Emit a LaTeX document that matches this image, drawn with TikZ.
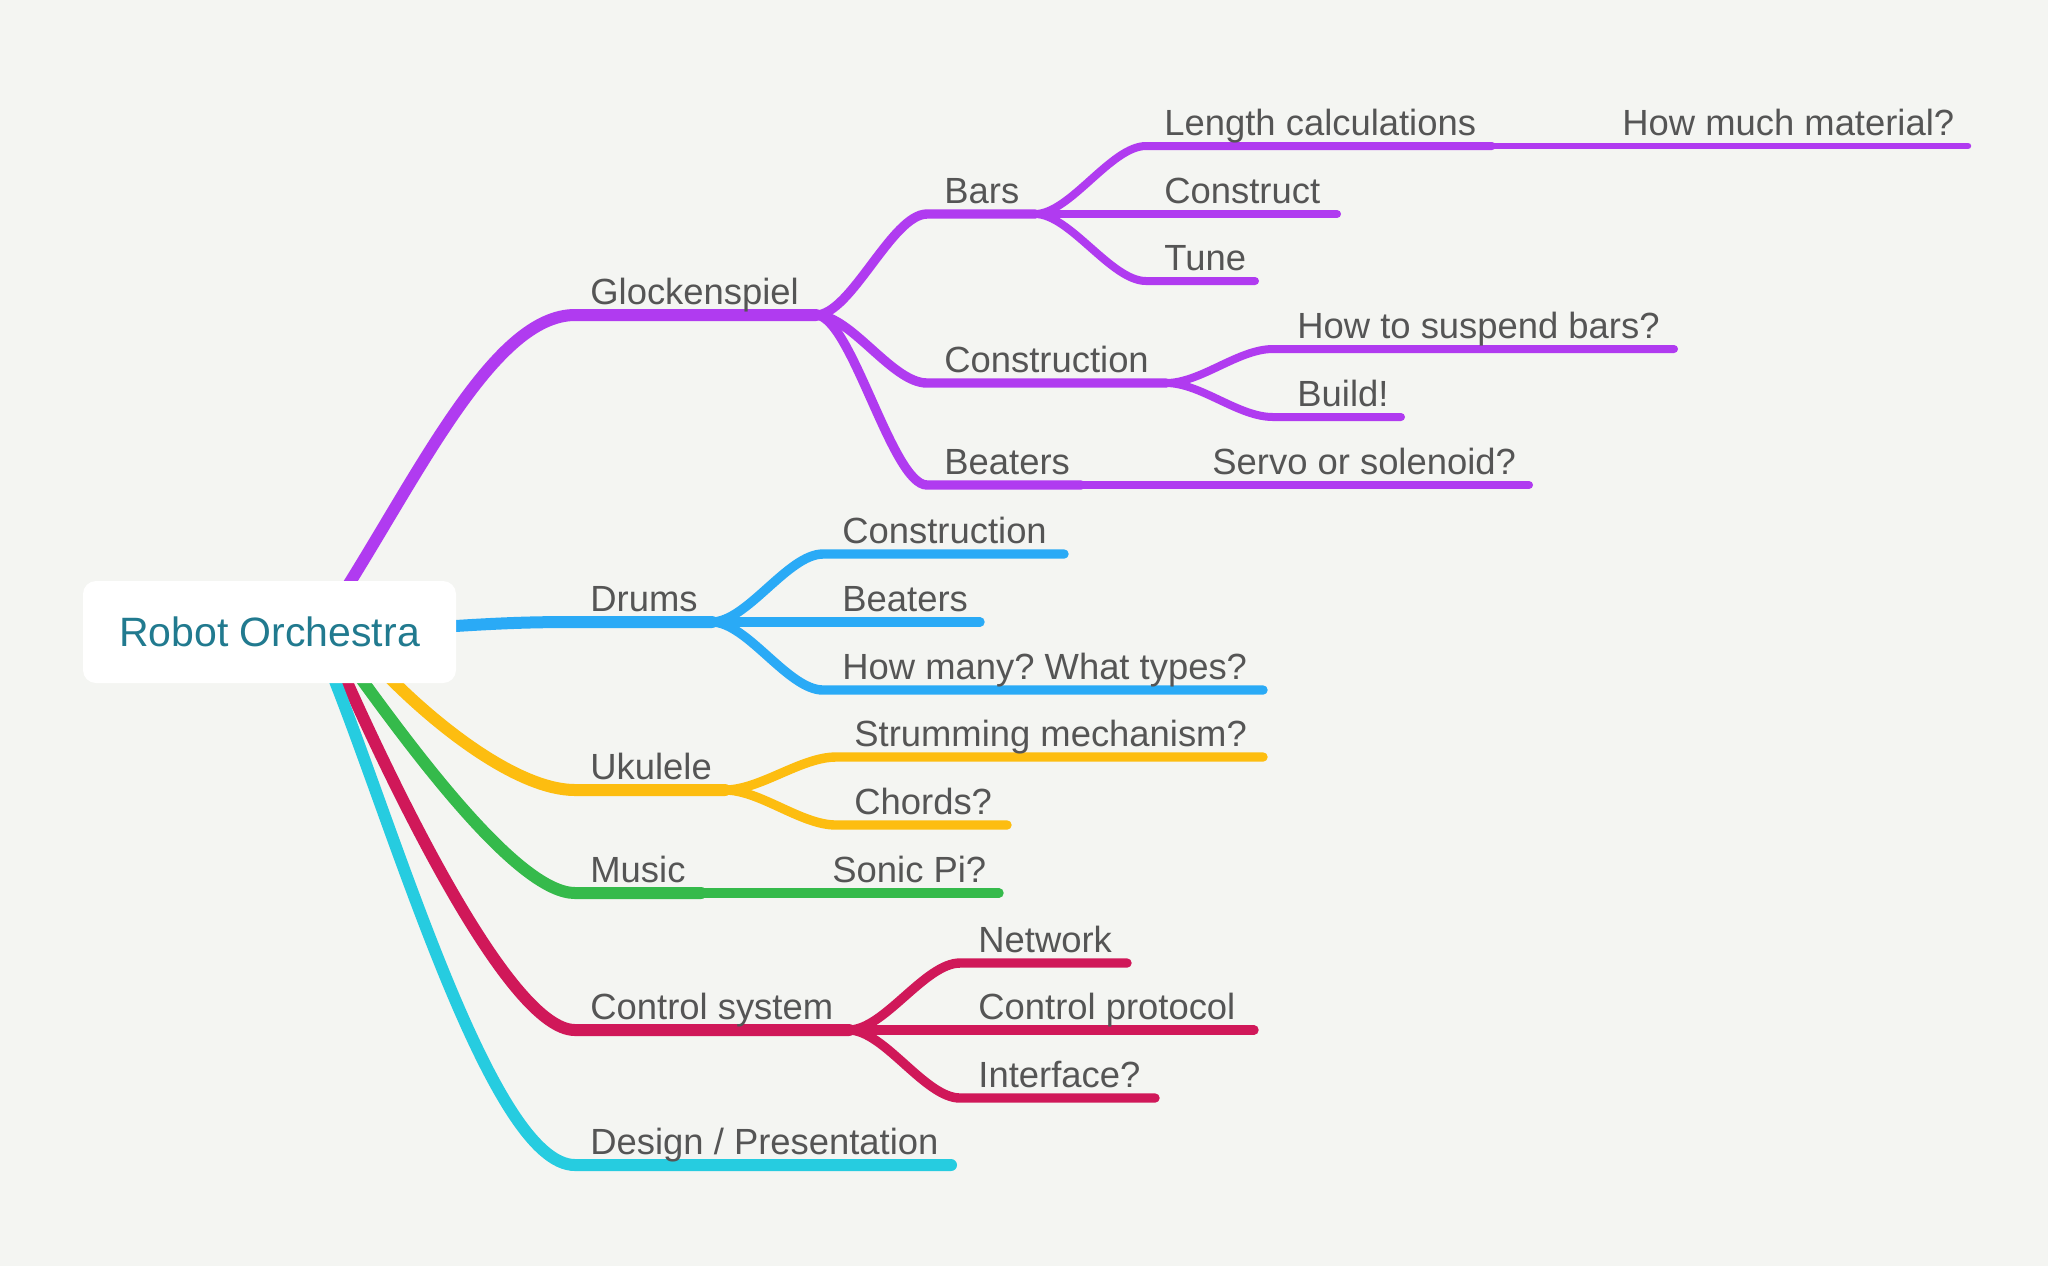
\documentclass[tikz,border=0pt]{standalone}
\usepackage{fontspec}
\setmainfont{Liberation Sans}
\usetikzlibrary{calc}
\pgfdeclarelayer{bottom}
\pgfdeclarelayer{links}
\pgfsetlayers{bottom,links,main}
\definecolor{bg}{HTML}{F4F5F2}
\definecolor{cpur}{HTML}{B03BF0}
\definecolor{cblu}{HTML}{2AAAF6}
\definecolor{cyel}{HTML}{FDBD10}
\definecolor{cgrn}{HTML}{35BA4B}
\definecolor{cred}{HTML}{D01859}
\definecolor{ccya}{HTML}{26CCE0}
\definecolor{txt}{HTML}{555555}
\definecolor{roottxt}{HTML}{217A8F}
\frenchspacing
\begin{document}
\begin{tikzpicture}[x=0.5pt,y=-0.5pt,
  lbl/.style={anchor=base west, inner sep=0pt, font=\fontsize{18.2}{22}\selectfont, text=txt},
  rootbox/.style={fill=white, rounded corners=6.5pt, minimum width=186.5pt, minimum height=51pt, inner sep=0pt, font=\fontsize{20.5}{24}\selectfont, text=roottxt},
  wA/.style={line width=6pt, line cap=round},
  wB/.style={line width=4.7pt, line cap=round},
  wC/.style={line width=4pt, line cap=round},
  wD/.style={line width=3.2pt, line cap=round},
  sb/.style={to path={.. controls +(35,0) and +(-35,0) .. (\tikztotarget)}}]
\begin{pgfonlayer}{bottom}
\fill[bg] (0,0) rectangle (2048,1266);
\end{pgfonlayer}
\useasboundingbox (0,0) rectangle (2048,1266);

\node[rootbox] (root) at (269.5,632) {Robot Orchestra};

% coordinates
\coordinate (sG) at (342,595);  \coordinate (eG) at (575,315);  \coordinate (jG) at (816,315);
\coordinate (sD) at (440,627);  \coordinate (eD) at (575,622);  \coordinate (jD) at (712,622);
\coordinate (sU) at (383,671);  \coordinate (eU) at (575,790);  \coordinate (jU) at (725,790);
\coordinate (sM) at (357,673);  \coordinate (eM) at (575,893);  \coordinate (jM) at (701,893); \coordinate (zM) at (999,893);
\coordinate (sC) at (342,671);  \coordinate (eC) at (575,1030); \coordinate (jC) at (849,1030);
\coordinate (sX) at (331,671);  \coordinate (eX) at (575,1165); \coordinate (zX) at (951,1165);

\coordinate (eBars) at (927,214); \coordinate (zBars) at (1035,214);
\coordinate (eCon) at (927,383);  \coordinate (zCon) at (1166,383);
\coordinate (eBea) at (927,485);  \coordinate (zBea) at (1081,485); \coordinate (zServo) at (1529,485);
\coordinate (eLen) at (1146,146); \coordinate (zLen) at (1492,146); \coordinate (zHow) at (1968,146);
\coordinate (zCst) at (1337,214);
\coordinate (eTune) at (1146,281); \coordinate (zTune) at (1255,281);
\coordinate (eSus) at (1273,349); \coordinate (zSus) at (1674,349);
\coordinate (eBld) at (1273,417); \coordinate (zBld) at (1401,417);
\coordinate (eDC) at (823,554); \coordinate (zDC) at (1064,554);
\coordinate (zDB) at (980,622);
\coordinate (eDH) at (823,690); \coordinate (zDH) at (1263,690);
\coordinate (eUS) at (836,757); \coordinate (zUS) at (1263,757);
\coordinate (eUC) at (836,825); \coordinate (zUC) at (1007,825);
\coordinate (eCN) at (960,963); \coordinate (zCN) at (1127,963);
\coordinate (zCP) at (1254,1030);
\coordinate (eCI) at (960,1098); \coordinate (zCI) at (1155,1098);

\begin{pgfonlayer}{links}
% level 1
\draw[wA,cpur] (sG) .. controls (421,470) and (495,315) .. (eG) -- (jG);
\draw[wA,cblu] (sD) .. controls (500,623) and (530,622) .. (eD) -- (jD);
\draw[wA,cyel] (sU) .. controls (440,730) and (520,790) .. (eU) -- (jU);
\draw[wA,cgrn] (sM) .. controls (420,760) and (520,893) .. (eM) -- (jM);
\draw[wA,cred] (sC) .. controls (395,790) and (510,1030) .. (eC) -- (jC);
\draw[wA,ccya] (sX) .. controls (395,830) and (492,1165) .. (eX) -- (zX);
% Glockenspiel
\draw[wB,cpur] (jG) to[sb] (eBars) -- (zBars);
\draw[wB,cpur] (jG) to[sb] (eCon) -- (zCon);
\draw[wB,cpur] (jG) to[sb] (eBea) -- (zBea);
\draw[wC,cpur] (zBea) -- (zServo);
\draw[wC,cpur] (zBars) to[sb] (eLen) -- (zLen);
\draw[wD,cpur] (zLen) -- (zHow);
\draw[wC,cpur] (zBars) -- (zCst);
\draw[wC,cpur] (zBars) to[sb] (eTune) -- (zTune);
\draw[wC,cpur] (zCon) to[sb] (eSus) -- (zSus);
\draw[wC,cpur] (zCon) to[sb] (eBld) -- (zBld);
% Drums
\draw[wB,cblu] (jD) to[sb] (eDC) -- (zDC);
\draw[wB,cblu] (jD) -- (zDB);
\draw[wB,cblu] (jD) to[sb] (eDH) -- (zDH);
% Ukulele
\draw[wB,cyel] (jU) to[sb] (eUS) -- (zUS);
\draw[wB,cyel] (jU) to[sb] (eUC) -- (zUC);
% Music
\draw[wB,cgrn] (jM) -- (zM);
% Control
\draw[wB,cred] (jC) to[sb] (eCN) -- (zCN);
\draw[wB,cred] (jC) -- (zCP);
\draw[wB,cred] (jC) to[sb] (eCI) -- (zCI);
\end{pgfonlayer}

% labels
\node[lbl] (lG) at (590,304) {Glockenspiel};
\node[lbl] (lD) at (590,611) {Drums};
\node[lbl] (lU) at (590,779) {Ukulele};
\node[lbl] (lM) at (590,882) {Music};
\node[lbl] (lC) at (590,1019) {Control system};
\node[lbl] (lX) at (590,1154) {Design / Presentation};
\node[lbl] (lBars) at (944,203) {Bars};
\node[lbl] (lCon) at (944,372) {Construction};
\node[lbl] (lBea) at (944,474) {Beaters};
\node[lbl] (lServo) at (1212,474) {Servo or solenoid?};
\node[lbl] (lLen) at (1164,135) {Length calculations};
\node[lbl] (lHow) at (1622,135) {How much material?};
\node[lbl] (lCst) at (1164,203) {Construct};
\node[lbl] (lTune) at (1164,270) {Tune};
\node[lbl] (lSus) at (1297,338) {How to suspend bars?};
\node[lbl] (lBld) at (1297,406) {Build!};
\node[lbl] (lDC) at (842,543) {Construction};
\node[lbl] (lDB) at (842,611) {Beaters};
\node[lbl] (lDH) at (842,679) {How many? What types?};
\node[lbl] (lUS) at (854,746) {Strumming mechanism?};
\node[lbl] (lUC) at (854,814) {Chords?};
\node[lbl] (lSonic) at (832,882) {Sonic Pi?};
\node[lbl] (lCN) at (978,952) {Network};
\node[lbl] (lCP) at (978,1019) {Control protocol};
\node[lbl] (lCI) at (978,1087) {Interface?};
\end{tikzpicture}
\end{document}
